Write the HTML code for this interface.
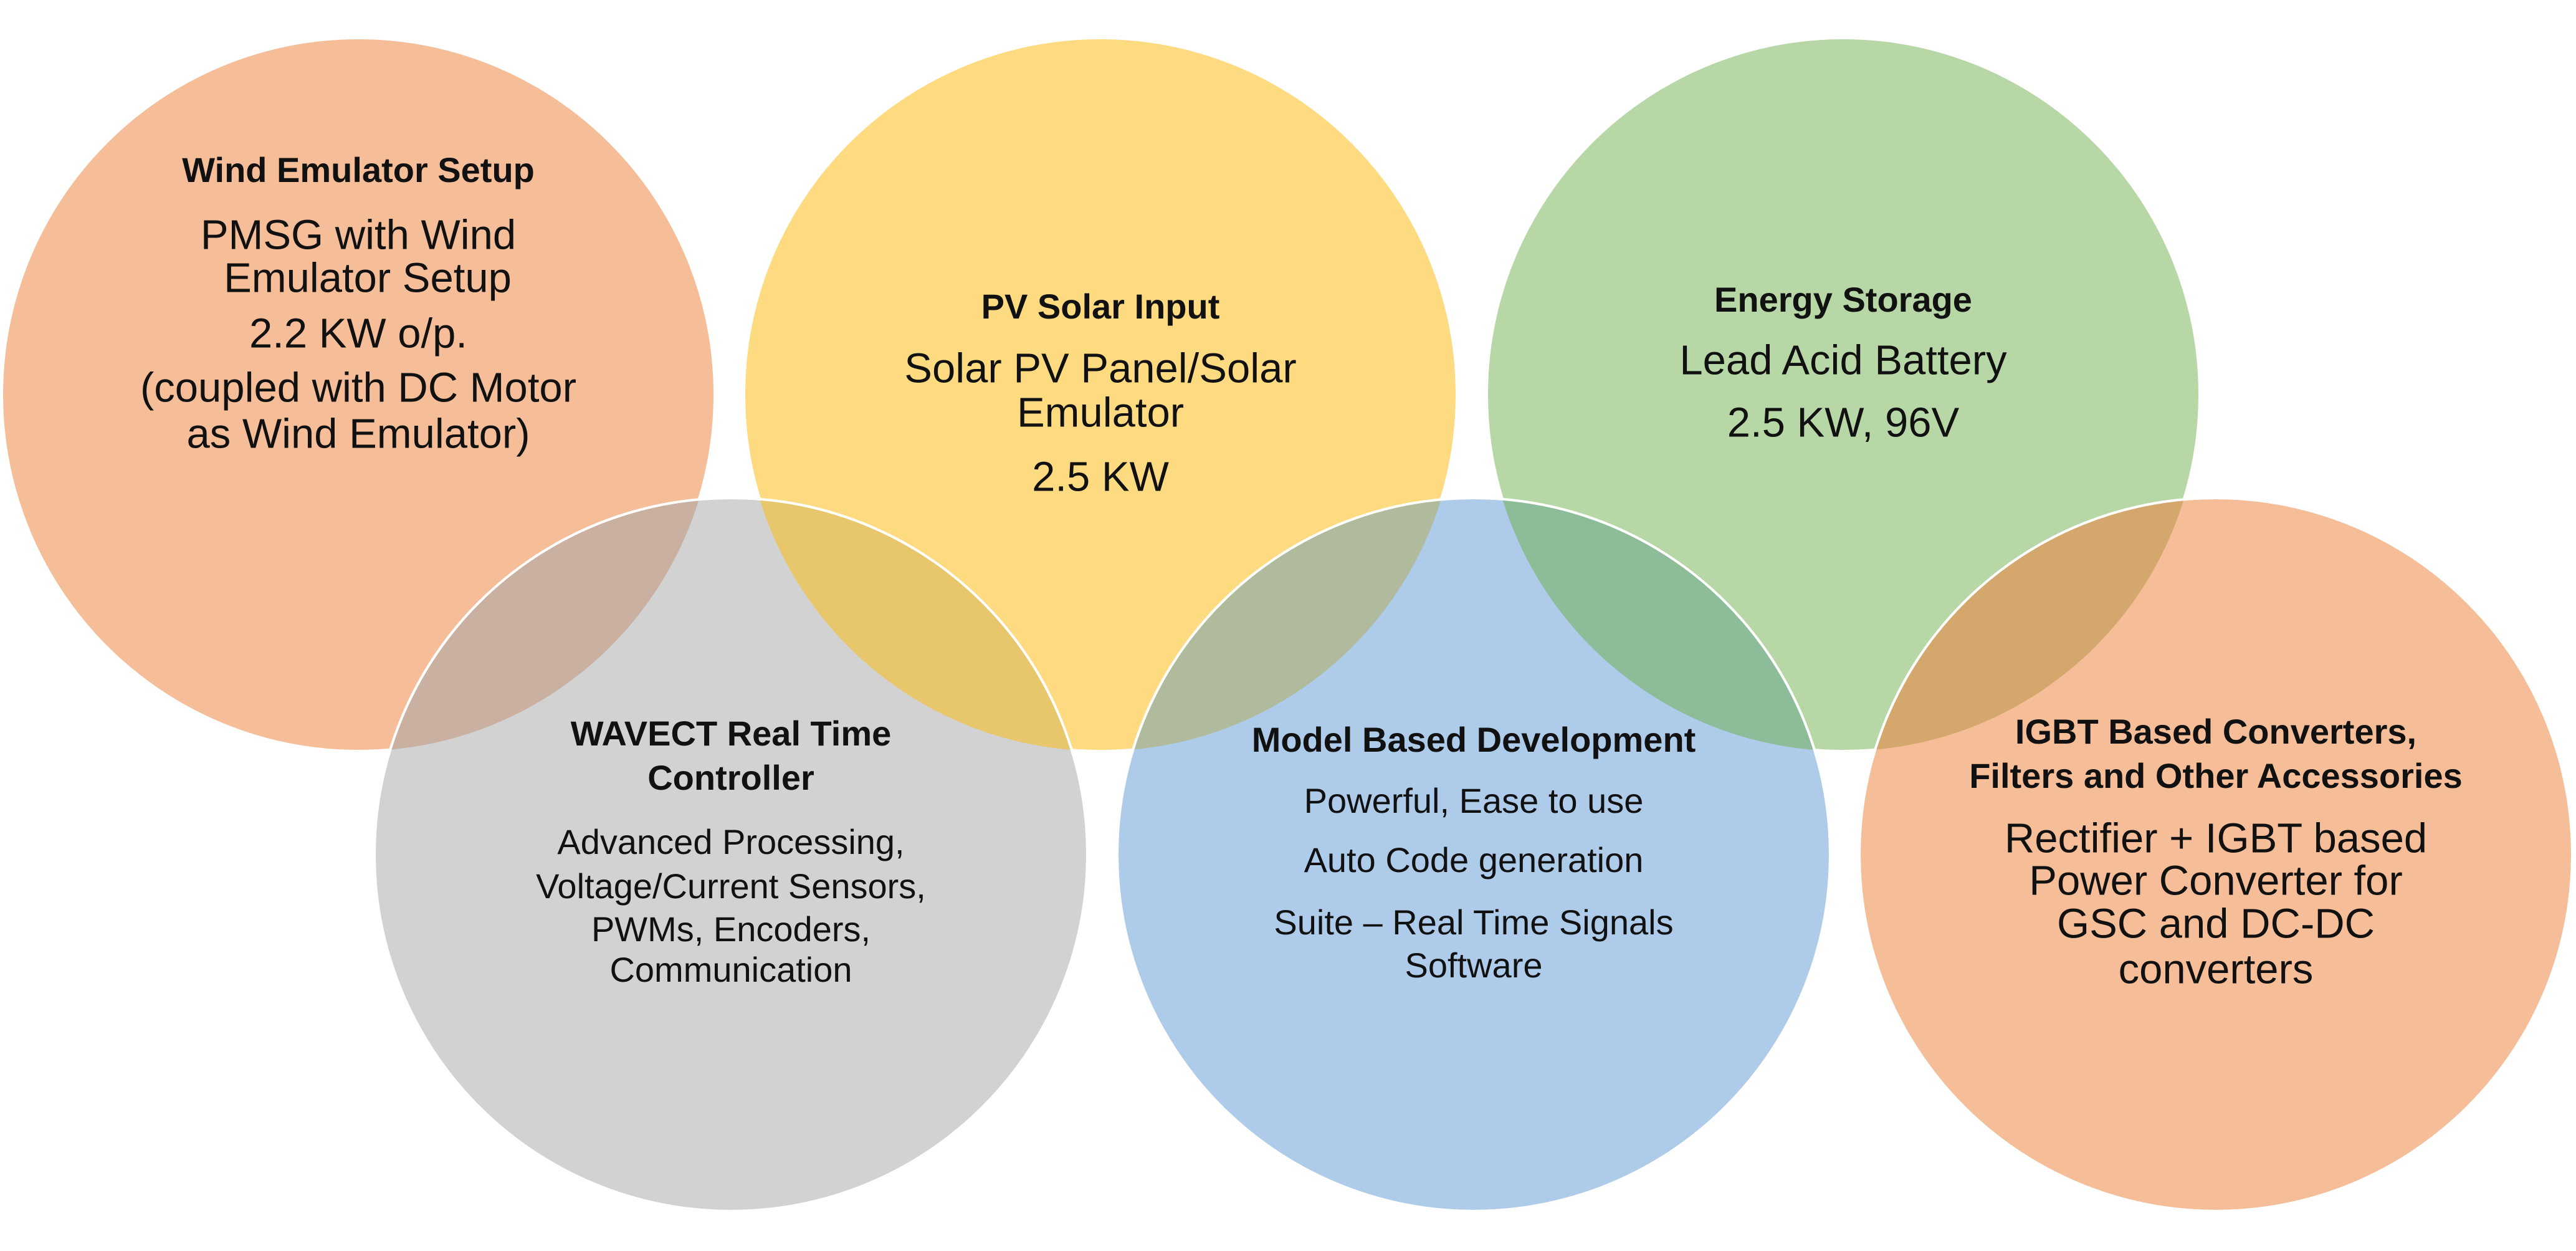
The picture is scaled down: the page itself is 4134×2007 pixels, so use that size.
<!DOCTYPE html>
<html><head><meta charset="utf-8"><style>
html,body{margin:0;padding:0;background:#fff;}
svg{display:block;}
text{font-family:"Liberation Sans",sans-serif;fill:#111;text-anchor:middle;dominant-baseline:middle;}
.t{font-weight:bold;font-size:56px;}
.b{font-size:67px;}
.s{font-size:56px;}
</style></head><body>
<svg width="4134" height="2007" viewBox="0 0 4134 2007">
<defs>
<clipPath id="cg"><circle cx="1173" cy="1371" r="572"/></clipPath>
<clipPath id="cb"><circle cx="2365" cy="1371" r="572"/></clipPath>
<clipPath id="co"><circle cx="3556" cy="1371" r="572"/></clipPath>
</defs>
<g stroke="#fff" stroke-width="4">
<circle cx="575" cy="633" r="572" fill="#F5BE98"/>
<circle cx="1766" cy="633" r="572" fill="#FEDB80"/>
<circle cx="2958" cy="633" r="572" fill="#B8D7A6"/>
<circle cx="1173" cy="1371" r="572" fill="#D2D2D2"/>
<circle cx="2365" cy="1371" r="572" fill="#AECCEA"/>
<circle cx="3556" cy="1371" r="572" fill="#F5BE98"/>
</g>
<circle cx="575" cy="633" r="572" fill="#CAB0A0" clip-path="url(#cg)"/>
<circle cx="1766" cy="633" r="572" fill="#E7C66C" clip-path="url(#cg)"/>
<circle cx="1766" cy="633" r="572" fill="#AFBB9C" clip-path="url(#cb)"/>
<circle cx="2958" cy="633" r="572" fill="#8CBC98" clip-path="url(#cb)"/>
<circle cx="2958" cy="633" r="572" fill="#D4A86C" clip-path="url(#co)"/>
<g fill="none" stroke="#fff" stroke-width="4">
<circle cx="1173" cy="1371" r="572"/>
<circle cx="2365" cy="1371" r="572"/>
<circle cx="3556" cy="1371" r="572"/>
</g>

<text class="t" x="575" y="277">Wind Emulator Setup</text>
<text class="b" x="575" y="382">PMSG with Wind</text>
<text class="b" x="590" y="451">Emulator Setup</text>
<text class="b" x="575" y="540">2.2 KW o/p.</text>
<text class="b" x="575" y="627">(coupled with DC Motor</text>
<text class="b" x="575" y="701">as Wind Emulator)</text>

<text class="t" x="1766" y="496">PV Solar Input</text>
<text class="b" x="1766" y="596">Solar PV Panel/Solar</text>
<text class="b" x="1766" y="667">Emulator</text>
<text class="b" x="1766" y="770">2.5 KW</text>

<text class="t" x="2958" y="485">Energy Storage</text>
<text class="b" x="2958" y="583">Lead Acid Battery</text>
<text class="b" x="2958" y="683">2.5 KW, 96V</text>

<text class="t" x="1173" y="1181">WAVECT Real Time</text>
<text class="t" x="1173" y="1252">Controller</text>
<text class="s" x="1173" y="1355">Advanced Processing,</text>
<text class="s" x="1173" y="1426">Voltage/Current Sensors,</text>
<text class="s" x="1173" y="1495">PWMs, Encoders,</text>
<text class="s" x="1173" y="1560">Communication</text>

<text class="t" x="2365" y="1191">Model Based Development</text>
<text class="s" x="2365" y="1289">Powerful, Ease to use</text>
<text class="s" x="2365" y="1384">Auto Code generation</text>
<text class="s" x="2365" y="1484">Suite – Real Time Signals</text>
<text class="s" x="2365" y="1553">Software</text>

<text class="t" x="3556" y="1178">IGBT Based Converters,</text>
<text class="t" x="3556" y="1249">Filters and Other Accessories</text>
<text class="b" x="3556" y="1350">Rectifier + IGBT based</text>
<text class="b" x="3556" y="1418">Power Converter for</text>
<text class="b" x="3556" y="1487">GSC and DC-DC</text>
<text class="b" x="3556" y="1560">converters</text>
</svg>
</body></html>
